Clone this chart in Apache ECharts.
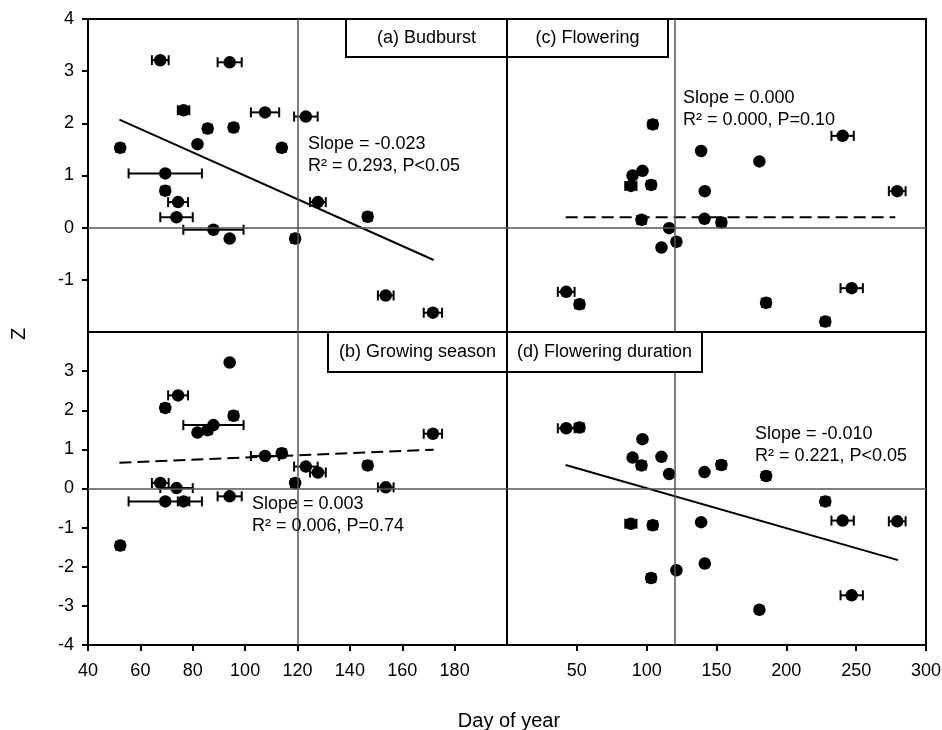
<!DOCTYPE html>
<html>
<head>
<meta charset="utf-8">
<script src="https://cdn.jsdelivr.net/npm/echarts@6/dist/echarts.min.js"></script>
<style>
html,body{margin:0;padding:0;background:#fff;}
#chart{width:942px;height:730px;}
</style>
</head>
<body>
<div id="chart"></div>
<script>
// ---- tick labels ----
const xTicksLeft = [40, 60, 80, 100, 120, 140, 160, 180];
const xTicksRight = [50, 100, 150, 200, 250, 300];
const yTicksTop = [4, 3, 2, 1, 0, -1];
const yTicksBottom = [3, 2, 1, 0, -1, -2, -3, -4];

// ---- budburst day of year (mean) and its error, shared by panels (a) and (b) ----
const budburstDay = [67.6, 94.1, 76.5, 107.6, 123.2, 85.7, 95.6, 81.8, 52.3, 114.0, 69.5, 69.5, 74.4, 127.8, 73.8, 146.8, 87.9, 94.1, 119.1, 153.7, 171.7];
const budburstErr = [3.2, 4.6, 2.2, 5.4, 4.5, 1.5, 1.5, 1.0, 1.5, 1.5, 14.0, 1.5, 3.8, 3.0, 6.2, 1.5, 11.5, 0, 1.5, 3.0, 3.5];
const budburstZ = [3.21, 3.17, 2.25, 2.21, 2.13, 1.90, 1.92, 1.60, 1.53, 1.53, 1.04, 0.71, 0.49, 0.49, 0.20, 0.21, -0.04, -0.21, -0.21, -1.30, -1.63];
const growingSeasonZ = [0.14, -0.20, -0.33, 0.83, 0.56, 1.49, 1.86, 1.43, -1.46, 0.90, -0.33, 2.06, 2.38, 0.41, 0.01, 0.59, 1.62, 3.22, 0.14, 0.03, 1.40];

// ---- flowering day of year (mean) and its error, shared by panels (c) and (d) ----
const floweringDay = [104.4, 240.3, 139.0, 180.7, 97.0, 89.9, 88.7, 103.2, 141.6, 279.4, 96.3, 141.4, 153.5, 116.1, 121.3, 110.6, 42.4, 51.9, 246.8, 185.5, 227.9];
const floweringErr = [3, 8, 0, 0, 0, 0, 4, 3, 2, 6, 3, 0, 3, 0, 0, 0, 6, 3, 8, 3, 3];
const floweringZ = [1.98, 1.76, 1.47, 1.27, 1.09, 1.00, 0.80, 0.82, 0.70, 0.70, 0.15, 0.17, 0.10, -0.01, -0.27, -0.38, -1.23, -1.47, -1.16, -1.44, -1.80];
const floweringDurationZ = [-0.94, -0.82, -0.86, -3.10, 1.26, 0.79, -0.90, -2.29, -1.92, -0.84, 0.59, 0.42, 0.60, 0.37, -2.09, 0.81, 1.54, 1.56, -2.73, 0.32, -0.33];

// ---- regression lines (end points) ----
const fitBudburst = [[52, 2.07], [172, -0.62]];
const fitGrowing = [[52, 0.66], [172, 0.99]];
const fitFlowering = [[42, 0.20], [278, 0.20]];
const fitDuration = [[42, 0.60], [280, -1.83]];

// ---- reference values ----
const refDay = 120;
const refZ = 0;

const FONT = '"Liberation Sans", Arial, Helvetica, sans-serif';

const chart = echarts.init(document.getElementById('chart'), null, {renderer: 'canvas'});

function errRender(params, api) {
  const x = api.value(0), e = api.value(1), y = api.value(2);
  if (!e) return null;
  const lo = api.coord([x - e, y]);
  const hi = api.coord([x + e, y]);
  const h = 5;
  const st = {stroke: '#000', lineWidth: 2};
  return {
    type: 'group',
    children: [
      {type: 'line', shape: {x1: lo[0], y1: lo[1], x2: hi[0], y2: hi[1]}, style: st},
      {type: 'line', shape: {x1: lo[0], y1: lo[1] - h, x2: lo[0], y2: lo[1] + h}, style: st},
      {type: 'line', shape: {x1: hi[0], y1: hi[1] - h, x2: hi[0], y2: hi[1] + h}, style: st}
    ]
  };
}

const grids = [
  {left: 88, top: 19, width: 419, height: 313},
  {left: 507, top: 19, width: 419, height: 313},
  {left: 88, top: 332, width: 419, height: 313},
  {left: 507, top: 332, width: 419, height: 313}
].map(g => Object.assign({show: true, borderColor: '#000', borderWidth: 2, backgroundColor: 'transparent', containLabel: false, outerBoundsMode: 'none'}, g));

const hiddenAxis = {
  axisLine: {show: false}, axisTick: {show: false}, axisLabel: {show: false}, splitLine: {show: false}
};

const labelStyle = {color: '#000', fontSize: 18, fontFamily: FONT};

const xAxes = [
  Object.assign({type: 'value', gridIndex: 0, min: 40, max: 200}, hiddenAxis),
  Object.assign({type: 'value', gridIndex: 1, min: 0, max: 300}, hiddenAxis),
  {
    type: 'value', gridIndex: 2, min: 40, max: 200, interval: 20,
    axisLine: {show: true, onZero: false, lineStyle: {color: '#000', width: 2}},
    axisTick: {show: true, inside: false, length: 6, lineStyle: {color: '#000', width: 2}, customValues: xTicksLeft},
    axisLabel: Object.assign({margin: 17, customValues: xTicksLeft}, labelStyle),
    splitLine: {show: false}
  },
  {
    type: 'value', gridIndex: 3, min: 0, max: 300, interval: 50,
    axisLine: {show: true, onZero: false, lineStyle: {color: '#000', width: 2}},
    axisTick: {show: true, inside: false, length: 6, lineStyle: {color: '#000', width: 2}, customValues: xTicksRight},
    axisLabel: Object.assign({margin: 17, customValues: xTicksRight}, labelStyle),
    splitLine: {show: false}
  }
];

const yAxes = [
  {
    type: 'value', gridIndex: 0, min: -2, max: 4, interval: 1,
    axisLine: {show: true, onZero: false, lineStyle: {color: '#000', width: 2}},
    axisTick: {show: true, inside: false, length: 6, lineStyle: {color: '#000', width: 2}, customValues: yTicksTop},
    axisLabel: Object.assign({margin: 14, customValues: yTicksTop}, labelStyle),
    splitLine: {show: false}
  },
  Object.assign({type: 'value', gridIndex: 1, min: -2, max: 4}, hiddenAxis),
  {
    type: 'value', gridIndex: 2, min: -4, max: 4, interval: 1,
    axisLine: {show: true, onZero: false, lineStyle: {color: '#000', width: 2}},
    axisTick: {show: true, inside: false, length: 6, lineStyle: {color: '#000', width: 2}, customValues: yTicksBottom},
    axisLabel: Object.assign({margin: 14, customValues: yTicksBottom}, labelStyle),
    splitLine: {show: false}
  },
  Object.assign({type: 'value', gridIndex: 3, min: -4, max: 4}, hiddenAxis)
];

const panels = [
  {xs: budburstDay, err: budburstErr, zs: budburstZ, fit: fitBudburst, dashed: false},
  {xs: floweringDay, err: floweringErr, zs: floweringZ, fit: fitFlowering, dashed: true},
  {xs: budburstDay, err: budburstErr, zs: growingSeasonZ, fit: fitGrowing, dashed: true},
  {xs: floweringDay, err: floweringErr, zs: floweringDurationZ, fit: fitDuration, dashed: false}
];

const series = [];
panels.forEach((p, i) => {
  series.push({
    type: 'line', xAxisIndex: i, yAxisIndex: i, data: [], silent: true, z: 1,
    markLine: {
      silent: true, symbol: 'none', animation: false,
      label: {show: false},
      lineStyle: {color: '#555', width: 1.5, type: 'solid'},
      data: [{xAxis: refDay}, {yAxis: refZ}]
    }
  });
  series.push({
    type: 'line', xAxisIndex: i, yAxisIndex: i, data: p.fit, showSymbol: false, symbol: 'none',
    silent: true, z: 2, animation: false,
    lineStyle: {color: '#000', width: 2, type: p.dashed ? [12, 6] : 'solid'}
  });
  series.push({
    type: 'custom', xAxisIndex: i, yAxisIndex: i, renderItem: errRender, z: 3, silent: true, animation: false,
    encode: {x: 0, y: 2},
    data: p.xs.map((x, k) => [x, p.err[k], p.zs[k]])
  });
  series.push({
    type: 'scatter', xAxisIndex: i, yAxisIndex: i, symbol: 'circle', symbolSize: 12.5, z: 4, animation: false,
    itemStyle: {color: '#000', opacity: 1},
    data: p.xs.map((x, k) => [x, p.zs[k]])
  });
});

function boxLabel(x, y, w, h, text) {
  return [
    {type: 'rect', shape: {x: x, y: y, width: w, height: h}, style: {fill: '#fff', stroke: '#000', lineWidth: 2}, z: 100},
    {type: 'text', x: x + w / 2, y: y + h / 2, z: 101,
     style: {text: text, fill: '#000', font: '18px ' + FONT, textAlign: 'center', textVerticalAlign: 'middle'}}
  ];
}

function note(x, y, lines) {
  return lines.map((t, k) => ({
    type: 'text', x: x, y: y + k * 22, z: 101,
    style: {text: t, fill: '#000', font: '18px ' + FONT, textAlign: 'left', textVerticalAlign: 'middle'}
  }));
}

const graphics = [].concat(
  boxLabel(346, 19, 161, 38, '(a) Budburst'),
  boxLabel(507, 19, 161, 38, '(c) Flowering'),
  boxLabel(328, 332, 179, 40, '(b) Growing season'),
  boxLabel(507, 332, 195, 40, '(d) Flowering duration'),
  note(308, 144, ['Slope = -0.023', 'R\u00B2 = 0.293, P<0.05']),
  note(683, 98, ['Slope = 0.000', 'R\u00B2 = 0.000, P=0.10']),
  note(252, 504, ['Slope = 0.003', 'R\u00B2 = 0.006, P=0.74']),
  note(755, 434, ['Slope = -0.010', 'R\u00B2 = 0.221, P<0.05']),
  [
    {type: 'text', x: 19, y: 334, rotation: Math.PI / 2, z: 101,
     style: {text: 'Z', fill: '#000', font: '20px ' + FONT, textAlign: 'center', textVerticalAlign: 'middle'}},
    {type: 'text', x: 509, y: 721, z: 101,
     style: {text: 'Day of year', fill: '#000', font: '20px ' + FONT, textAlign: 'center', textVerticalAlign: 'middle'}}
  ]
);

chart.setOption({
  animation: false,
  backgroundColor: '#fff',
  textStyle: {fontFamily: FONT},
  grid: grids,
  xAxis: xAxes,
  yAxis: yAxes,
  series: series,
  graphic: graphics
});
</script>
</body>
</html>
